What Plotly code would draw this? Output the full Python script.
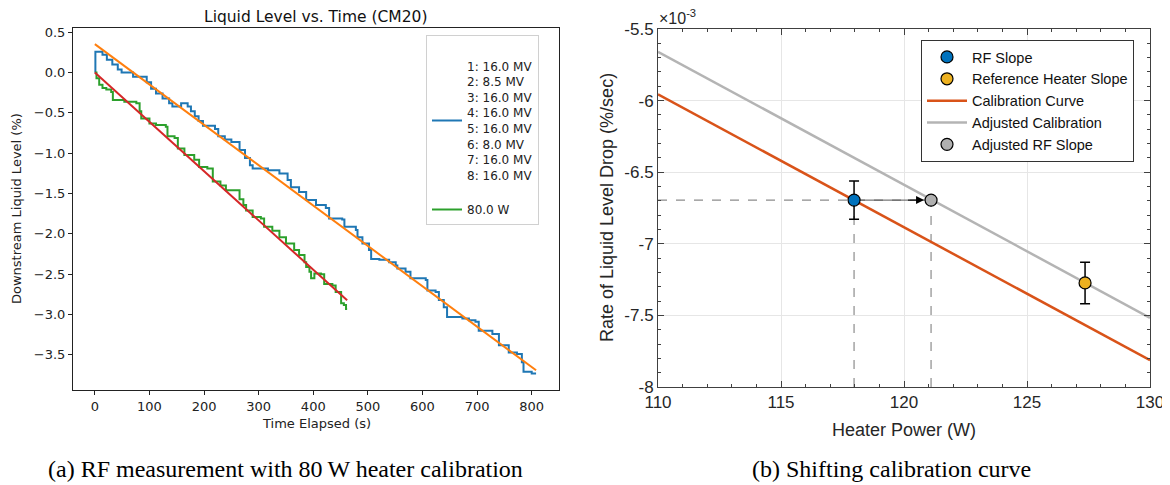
import plotly.graph_objects as go

# ---- left panel: liquid level vs time (step traces) ----
rf_t = [0, 1, 14, 22, 32, 42, 49, 70, 95, 103, 112, 124, 136, 142, 158, 170, 176, 183, 190, 198,
        220, 226, 238, 250, 265, 275, 284, 289, 317, 338, 353, 359, 374, 387, 405, 423, 429, 453,
        457, 478, 481, 490, 502, 506, 521, 539, 551, 554, 569, 578, 606, 609, 624, 630, 639, 645,
        673, 685, 697, 703, 728, 740, 758, 773, 782, 785, 800, 808]
rf_level = [0.0, 0.26, 0.22, 0.16, 0.10, 0.04, 0.0, -0.05, -0.12, -0.20, -0.26, -0.32, -0.38, -0.42,
            -0.38, -0.42, -0.48, -0.54, -0.60, -0.66, -0.70, -0.79, -0.83, -0.86, -0.96, -1.06, -1.15,
            -1.19, -1.21, -1.25, -1.33, -1.42, -1.48, -1.58, -1.64, -1.68, -1.81, -1.82, -1.91, -1.95,
            -2.04, -2.12, -2.20, -2.31, -2.32, -2.35, -2.39, -2.43, -2.47, -2.55, -2.57, -2.70, -2.72,
            -2.82, -2.91, -3.03, -3.05, -3.07, -3.09, -3.20, -3.24, -3.38, -3.47, -3.49, -3.59, -3.71,
            -3.73, -3.73]

heater_t = [0, 3, 8, 14, 21, 30, 33, 54, 76, 82, 85, 100, 112, 130, 133, 146, 152, 164, 182, 191,
            206, 216, 230, 240, 265, 272, 277, 289, 304, 310, 325, 338, 350, 365, 374, 384, 387, 393,
            396, 402, 414, 420, 435, 441, 451, 456, 460, 462]
heater_level = [0.0, -0.07, -0.15, -0.19, -0.21, -0.24, -0.34, -0.36, -0.38, -0.48, -0.57, -0.63,
                -0.65, -0.67, -0.79, -0.81, -0.94, -1.02, -1.08, -1.17, -1.19, -1.35, -1.40, -1.46,
                -1.57, -1.64, -1.71, -1.79, -1.81, -1.91, -1.96, -2.04, -2.12, -2.20, -2.26, -2.35,
                -2.41, -2.47, -2.55, -2.49, -2.50, -2.62, -2.64, -2.72, -2.86, -2.88, -2.93, -2.93]

rf_fit_t = [0, 808]
rf_fit_level = [0.353, -3.69]
heater_fit_t = [0, 462]
heater_fit_level = [0.0, -2.823]

rf_label = "&nbsp;<br>1: 16.0 MV<br>2: 8.5 MV<br>3: 16.0 MV<br>4: 16.0 MV<br>5: 16.0 MV<br>6: 8.0 MV<br>7: 16.0 MV<br>8: 16.0 MV<br>&nbsp;"
heater_label = "80.0 W"

left_xticks = [0, 100, 200, 300, 400, 500, 600, 700, 800]
left_yticks = [0.5, 0.0, -0.5, -1.0, -1.5, -2.0, -2.5, -3.0, -3.5]
left_yticktext = ["0.5", "0.0", "\u22120.5", "\u22121.0", "\u22121.5", "\u22122.0", "\u22122.5", "\u22123.0", "\u22123.5"]

# ---- right panel: calibration shift (y in units of 1e-3 %/sec) ----
cal_power = [110, 130]
cal_rate = [-5.956, -7.813]
adj_rate = [-5.659, -7.517]

rf_power = [117.97]
rf_rate = [-6.695]
rf_err = [0.133]

ref_power = [127.36]
ref_rate = [-7.273]
ref_err = [0.145]

adj_rf_power = [121.1]
adj_rf_rate = [-6.695]

right_xticks = [110, 115, 120, 125, 130]
right_yticks = [-5.5, -6, -6.5, -7, -7.5, -8]
right_yticktext = ["-5.5", "-6", "-6.5", "-7", "-7.5", "-8"]

# the page body keeps its default 8px margin, so the figure is made 8px smaller
# and positions are given in window pixels minus that offset
OFF = 8
W, H = 1170 - OFF, 485 - OFF
def fx(px):
    return (px - OFF) / W
def fy(py):
    return 1 - (py - OFF) / H

fig = go.Figure()

MPL = "DejaVu Sans"
MAT = "Liberation Sans, Arial, sans-serif"
SERIF = "Liberation Serif, Times New Roman, serif"

# left panel traces
fig.add_trace(go.Scatter(x=rf_t, y=rf_level, mode="lines", line=dict(color="#1f77b4", width=2, shape="hv"),
                         name=rf_label, legend="legend", xaxis="x", yaxis="y"))
fig.add_trace(go.Scatter(x=heater_t, y=heater_level, mode="lines", line=dict(color="#2ca02c", width=2, shape="hv"),
                         name=heater_label, legend="legend", xaxis="x", yaxis="y"))
fig.add_trace(go.Scatter(x=rf_fit_t, y=rf_fit_level, mode="lines", line=dict(color="#ff7f0e", width=2),
                         showlegend=False, xaxis="x", yaxis="y"))
fig.add_trace(go.Scatter(x=heater_fit_t, y=heater_fit_level, mode="lines", line=dict(color="#d62728", width=2),
                         showlegend=False, xaxis="x", yaxis="y"))

# right panel traces
dash_col = "#8c8c8c"
fig.add_trace(go.Scatter(x=[110, adj_rf_power[0]], y=[rf_rate[0], adj_rf_rate[0]], mode="lines",
                         line=dict(color=dash_col, width=1.2, dash="dash"), showlegend=False, xaxis="x2", yaxis="y2"))
fig.add_trace(go.Scatter(x=[rf_power[0], rf_power[0]], y=[-8, rf_rate[0]], mode="lines",
                         line=dict(color=dash_col, width=1.2, dash="dash"), showlegend=False, xaxis="x2", yaxis="y2"))
fig.add_trace(go.Scatter(x=[adj_rf_power[0], adj_rf_power[0]], y=[-8, adj_rf_rate[0]], mode="lines",
                         line=dict(color=dash_col, width=1.2, dash="dash"), showlegend=False, xaxis="x2", yaxis="y2"))
fig.add_trace(go.Scatter(x=cal_power, y=cal_rate, mode="lines", line=dict(color="#D95319", width=2.5),
                         name="Calibration Curve", legend="legend2", legendrank=3, xaxis="x2", yaxis="y2"))
fig.add_trace(go.Scatter(x=cal_power, y=adj_rate, mode="lines", line=dict(color="#b4b4b4", width=2.5),
                         name="Adjusted Calibration", legend="legend2", legendrank=4, xaxis="x2", yaxis="y2"))
fig.add_trace(go.Scatter(x=[rf_power[0], adj_rf_power[0]], y=[rf_rate[0], adj_rf_rate[0]], mode="lines",
                         line=dict(color="#555555", width=1), showlegend=False, xaxis="x2", yaxis="y2"))
fig.add_trace(go.Scatter(x=rf_power, y=rf_rate, mode="markers",
                         error_y=dict(type="data", array=rf_err, color="black", thickness=1.5, width=5),
                         marker=dict(color="#0072BD", size=12, line=dict(color="black", width=1.2)),
                         name="RF Slope", legend="legend2", legendrank=1, xaxis="x2", yaxis="y2"))
fig.add_trace(go.Scatter(x=ref_power, y=ref_rate, mode="markers",
                         error_y=dict(type="data", array=ref_err, color="black", thickness=1.5, width=5),
                         marker=dict(color="#EDB120", size=12, line=dict(color="black", width=1.2)),
                         name="Reference Heater Slope", legend="legend2", legendrank=2, xaxis="x2", yaxis="y2"))
fig.add_trace(go.Scatter(x=adj_rf_power, y=adj_rf_rate, mode="markers",
                         marker=dict(color="#b0b0b0", size=12, line=dict(color="black", width=1.2)),
                         name="Adjusted RF Slope", legend="legend2", legendrank=5, xaxis="x2", yaxis="y2"))

fig.add_annotation(x=adj_rf_power[0], y=adj_rf_rate[0], ax=adj_rf_power[0] - 1.0, ay=adj_rf_rate[0],
                   xref="x2", yref="y2", axref="x2", ayref="y2", text="", showarrow=True,
                   arrowhead=2, arrowsize=1.6, arrowwidth=1, arrowcolor="black", standoff=7)

axis_mpl = dict(showgrid=False, zeroline=False, showline=True, linecolor="#222", linewidth=1, mirror=True,
                ticks="outside", ticklen=4, tickcolor="#222", automargin=False,
                tickfont=dict(family=MPL, size=13, color="#222"))
axis_mat = dict(showgrid=True, gridcolor="#e6e6e6", gridwidth=1, zeroline=False, showline=True,
                linecolor="#404040", linewidth=1, mirror="allticks", ticks="inside", ticklen=6,
                tickcolor="#404040", automargin=False, tickfont=dict(family=MAT, size=17, color="#262626"))

fig.update_layout(
    width=W, height=H, margin=dict(l=0, r=0, t=0, b=0),
    paper_bgcolor="white", plot_bgcolor="white",
    xaxis=dict(axis_mpl, domain=[fx(73), fx(559)], range=[-40, 850], tickvals=left_xticks),
    yaxis=dict(axis_mpl, domain=[fy(390), fy(28)], range=[-3.935, 0.553], tickvals=left_yticks,
               ticktext=left_yticktext),
    xaxis2=dict(axis_mat, domain=[fx(658), fx(1150)], range=[110, 130], tickvals=right_xticks,
                minor=dict(ticks="inside", dtick=1, ticklen=3, tickcolor="#404040", showgrid=False),
                anchor="y2"),
    yaxis2=dict(axis_mat, domain=[fy(387), fy(29)], range=[-8, -5.5], tickvals=right_yticks,
                ticktext=right_yticktext, anchor="x2",
                minor=dict(ticks="inside", dtick=0.1, ticklen=3, tickcolor="#404040", showgrid=False)),
    legend=dict(x=fx(426), y=fy(35), xanchor="left", yanchor="top", bgcolor="white", bordercolor="#d0d0d0",
                borderwidth=1, font=dict(family=MPL, size=12, color="#222"), itemwidth=30,
                tracegroupgap=2, valign="middle"),
    legend2=dict(x=fx(921), y=fy(40), xanchor="left", yanchor="top", bgcolor="white", bordercolor="#333",
                 borderwidth=1, font=dict(family=MAT, size=14.5, color="#111"), itemwidth=40,
                 tracegroupgap=0),
    showlegend=True,
)

# titles, axis labels, captions
def label(text, px, py, font, angle=0, xanchor="center"):
    fig.add_annotation(text=text, x=fx(px), y=fy(py), xref="paper", yref="paper", showarrow=False,
                       xanchor=xanchor, yanchor="middle", textangle=angle, font=font)

label("Liquid Level vs. Time (CM20)", 316, 17, dict(family=MPL, size=15.5, color="#111"))
label("Time Elapsed (s)", 316, 423, dict(family=MPL, size=13, color="#222"))
label("Downstream Liquid Level (%)", 16, 209, dict(family=MPL, size=13, color="#222"), angle=-90)
label("Heater Power (W)", 904, 430, dict(family=MAT, size=18, color="#262626"))
label("Rate of Liquid Level Drop (%/sec)", 607, 208, dict(family=MAT, size=18, color="#262626"), angle=-90)
label("\u00d710<sup>-3</sup>", 657, 17, dict(family=MAT, size=16, color="#262626"), xanchor="left")
label("(a) RF measurement with 80\u2009W heater calibration", 285, 469, dict(family=SERIF, size=24, color="black"))
label("(b) Shifting calibration curve", 891, 469, dict(family=SERIF, size=24, color="black"))

fig.write_html("out.html")
